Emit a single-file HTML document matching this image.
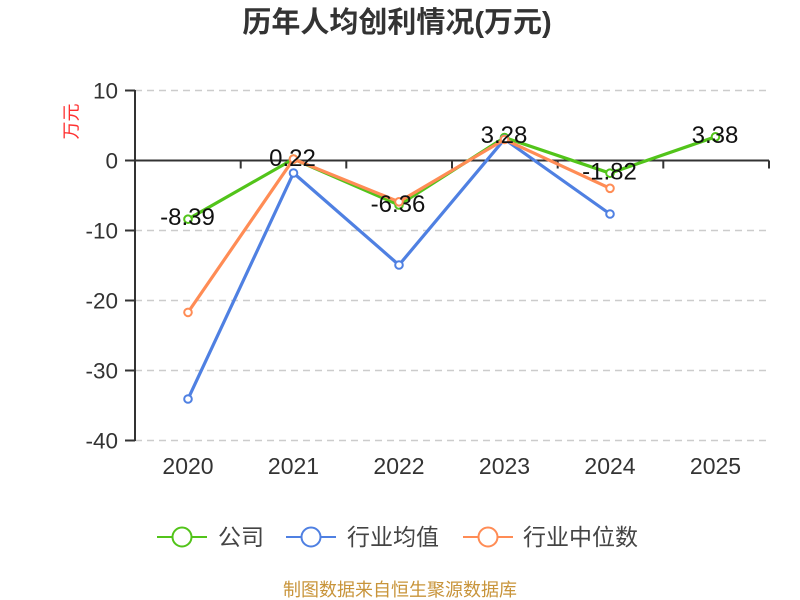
<!DOCTYPE html>
<html>
<head>
<meta charset="utf-8">
<style>
  html, body { margin: 0; padding: 0; background: #ffffff; }
  body { width: 800px; height: 600px; overflow: hidden; }
  svg { display: block; }
  text { font-family: "Liberation Sans", "Noto Sans CJK SC", sans-serif; }
</style>
</head>
<body>
<svg width="800" height="600" viewBox="0 0 800 600" xmlns="http://www.w3.org/2000/svg">
  <!-- Title -->
  <text x="397" y="32" text-anchor="middle" font-size="29" font-weight="bold" fill="#333333">历年人均创利情况(万元)</text>

  <!-- Y axis unit label -->
  <text x="0" y="0" transform="translate(77.5,121.5) rotate(-90)" text-anchor="middle" font-size="18" fill="#ff3030">万元</text>

  <!-- Grid lines (dashed) -->
  <g stroke="#cccccc" stroke-width="1.5" stroke-dasharray="7,5" fill="none">
    <line x1="135" y1="90.5" x2="769" y2="90.5"/>
    <line x1="135" y1="230.5" x2="769" y2="230.5"/>
    <line x1="135" y1="300.5" x2="769" y2="300.5"/>
    <line x1="135" y1="370.5" x2="769" y2="370.5"/>
    <line x1="135" y1="440.5" x2="769" y2="440.5"/>
  </g>

  <!-- Y axis -->
  <g stroke="#333333" stroke-width="2" fill="none">
    <line x1="135" y1="90" x2="135" y2="441"/>
    <line x1="125" y1="90.5" x2="135" y2="90.5"/>
    <line x1="125" y1="160.5" x2="135" y2="160.5"/>
    <line x1="125" y1="230.5" x2="135" y2="230.5"/>
    <line x1="125" y1="300.5" x2="135" y2="300.5"/>
    <line x1="125" y1="370.5" x2="135" y2="370.5"/>
    <line x1="125" y1="440.5" x2="135" y2="440.5"/>
  </g>

  <!-- X axis at zero -->
  <g stroke="#333333" stroke-width="2" fill="none">
    <line x1="135" y1="160.5" x2="769" y2="160.5"/>
    <line x1="135" y1="160.5" x2="135" y2="168.5"/>
    <line x1="240.7" y1="160.5" x2="240.7" y2="168.5"/>
    <line x1="346.3" y1="160.5" x2="346.3" y2="168.5"/>
    <line x1="452" y1="160.5" x2="452" y2="168.5"/>
    <line x1="557.7" y1="160.5" x2="557.7" y2="168.5"/>
    <line x1="663.3" y1="160.5" x2="663.3" y2="168.5"/>
    <line x1="769" y1="160.5" x2="769" y2="168.5"/>
  </g>

  <!-- Y tick labels -->
  <g font-size="22.5" fill="#333333" text-anchor="end">
    <text x="118" y="98.5">10</text>
    <text x="118" y="168.5">0</text>
    <text x="118" y="238.5">-10</text>
    <text x="118" y="308.5">-20</text>
    <text x="118" y="378.5">-30</text>
    <text x="118" y="448.5">-40</text>
  </g>

  <!-- X tick labels -->
  <g font-size="23" fill="#333333" text-anchor="middle">
    <text x="188" y="474">2020</text>
    <text x="293.5" y="474">2021</text>
    <text x="399" y="474">2022</text>
    <text x="504.5" y="474">2023</text>
    <text x="610" y="474">2024</text>
    <text x="715.5" y="474">2025</text>
  </g>

  <!-- Company series (green) -->
  <polyline points="188,219.2 293.5,159 399,205 504.5,137.5 610,173.2 715.5,136.8" fill="none" stroke="#52c41a" stroke-width="3.2" stroke-linejoin="round"/>
  <g fill="#ffffff" stroke="#52c41a" stroke-width="2">
    <circle cx="188" cy="219.2" r="3.8"/>
    <circle cx="293.5" cy="159" r="3.8"/>
    <circle cx="399" cy="205" r="3.8"/>
    <circle cx="504.5" cy="137.5" r="3.8"/>
    <circle cx="610" cy="173.2" r="3.8"/>
    <circle cx="715.5" cy="136.8" r="3.8"/>
  </g>

  <!-- Industry mean (blue) -->
  <polyline points="188,399 293.5,173 399,265 504.5,139.2 610,214" fill="none" stroke="#4f80e2" stroke-width="3.2" stroke-linejoin="round"/>
  <g fill="#ffffff" stroke="#4f80e2" stroke-width="2">
    <circle cx="188" cy="399" r="3.8"/>
    <circle cx="293.5" cy="173" r="3.8"/>
    <circle cx="399" cy="265" r="3.8"/>
    <circle cx="504.5" cy="139.2" r="3.8"/>
    <circle cx="610" cy="214" r="3.8"/>
  </g>

  <!-- Industry median (orange) -->
  <polyline points="188,312.4 293.5,159.1 399,201.8 504.5,139.5 610,188.3" fill="none" stroke="#ff8c55" stroke-width="3.2" stroke-linejoin="round"/>
  <g fill="#ffffff" stroke="#ff8c55" stroke-width="2">
    <circle cx="188" cy="312.4" r="3.8"/>
    <circle cx="293.5" cy="159.1" r="3.8"/>
    <circle cx="399" cy="201.8" r="3.8"/>
    <circle cx="504.5" cy="139.5" r="3.8"/>
    <circle cx="610" cy="188.3" r="3.8"/>
  </g>

  <!-- Data labels -->
  <g font-size="24" fill="#111111" text-anchor="middle">
    <text x="187.5" y="225">-8.39</text>
    <text x="292.5" y="166">0.22</text>
    <text x="398" y="212">-6.36</text>
    <text x="504" y="143">3.28</text>
    <text x="609.5" y="179.5">-1.82</text>
    <text x="715" y="143">3.38</text>
  </g>

  <!-- Legend -->
  <g stroke-width="2" fill="#ffffff">
    <line x1="157" y1="537" x2="207" y2="537" stroke="#52c41a"/>
    <circle cx="182" cy="537" r="9.5" stroke="#52c41a"/>
    <line x1="286" y1="537" x2="336" y2="537" stroke="#4f80e2"/>
    <circle cx="311" cy="537" r="9.5" stroke="#4f80e2"/>
    <line x1="463" y1="537" x2="513" y2="537" stroke="#ff8c55"/>
    <circle cx="488" cy="537" r="9.5" stroke="#ff8c55"/>
  </g>
  <g font-size="23" fill="#444444">
    <text x="218" y="545">公司</text>
    <text x="347" y="545">行业均值</text>
    <text x="523" y="545">行业中位数</text>
  </g>

  <!-- Footer -->
  <text x="400" y="596" text-anchor="middle" font-size="18" fill="#c8943a">制图数据来自恒生聚源数据库</text>
</svg>
</body>
</html>
